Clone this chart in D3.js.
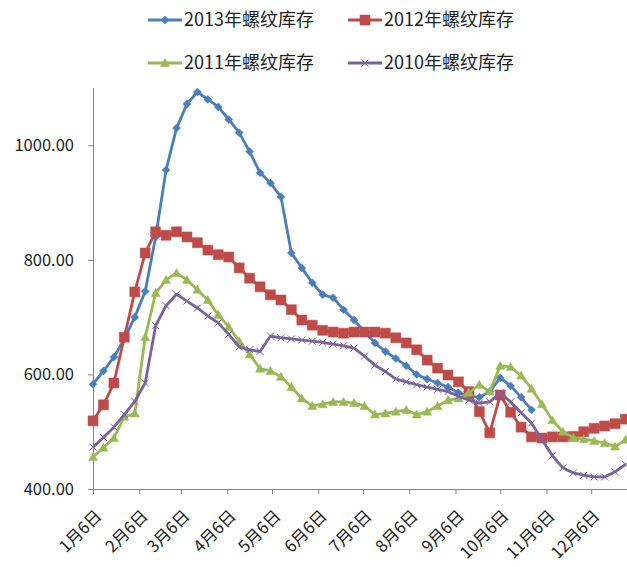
<!DOCTYPE html>
<html>
<head>
<meta charset="utf-8">
<script src="https://cdn.jsdelivr.net/npm/d3@7"></script>
<style>
  body { margin: 0; background: #fff; }
  text { font-family: "Noto Sans CJK SC", "Noto Sans", sans-serif; fill: #222; }
</style>
</head>
<body>
<svg id="chart" width="627" height="567"></svg>
<script>
// weekly inventory, one value per week starting 1月6日
const seriesNames = ["2013年螺纹库存", "2012年螺纹库存", "2011年螺纹库存", "2010年螺纹库存"];
const monthLabels = ["1月6日", "2月6日", "3月6日", "4月6日", "5月6日", "6月6日",
  "7月6日", "8月6日", "9月6日", "10月6日", "11月6日", "12月6日"];
const yTicks = [400, 600, 800, 1000];

const s2013 = [583, 606, 630, 662, 700, 745, 840, 957, 1030, 1072, 1093, 1080, 1067, 1045,
  1022, 989, 952, 934, 910, 812, 786, 760, 739, 734, 713, 695, 675, 655, 640, 628, 615,
  600, 592, 585, 578, 568, 562, 560, 570, 594, 580, 560, 538];
const s2012 = [519, 547, 585, 665, 744, 812, 849, 843, 849, 840, 830, 817, 809, 805, 786,
  768, 753, 739, 730, 713, 695, 686, 677, 674, 672, 674, 674, 674, 672, 664, 655, 643,
  625, 611, 599, 587, 570, 535, 498, 564, 534, 508, 491, 489, 491, 491, 492, 500, 506,
  510, 514, 522];
const s2011 = [456, 472, 489, 526, 532, 665, 742, 765, 777, 765, 748, 730, 704, 683, 658,
  635, 610, 606, 596, 578, 558, 545, 548, 552, 552, 550, 545, 530, 532, 535, 538, 530,
  535, 545, 555, 558, 568, 582, 570, 615, 613, 598, 575, 548, 520, 500, 490, 487, 484,
  480, 474, 486];
const s2010 = [473, 490, 508, 530, 553, 585, 685, 720, 740, 728, 716, 702, 690, 670, 648,
  643, 640, 667, 664, 662, 660, 658, 656, 653, 650, 646, 632, 616, 605, 592, 587, 582,
  578, 574, 570, 562, 555, 550, 552, 568, 552, 533, 515, 486, 458, 437, 428, 424, 421,
  421, 430, 443];

const allSeries = [s2013, s2012, s2011, s2010];
const colors = ["#4a7ebb", "#be4b48", "#98b954", "#7d60a0"];
const markers = ["diamond", "square", "triangle", "cross"];

const start = new Date(2013, 0, 6);
const weeks = d3.range(52).map(i => d3.timeDay.offset(start, 7 * i));
const monthDates = d3.range(12).map(m => new Date(2013, m, 6));

const svg = d3.select("#chart");

const x = d3.scaleTime()
  .domain([start, new Date(2013, 11, 30)])
  .range([93, 627]);
const y = d3.scaleLinear().domain([400, 1100]).range([489, 88]);

// y axis
const yAxis = svg.append("g")
  .attr("transform", "translate(93,0)")
  .call(d3.axisLeft(y).tickValues(yTicks).tickFormat(d3.format(".2f"))
    .tickSize(5).tickSizeOuter(0).tickPadding(14));
yAxis.select(".domain").attr("stroke", "#868686").attr("d", "M0.5,88V489");
yAxis.selectAll(".tick line").attr("stroke", "#868686");
yAxis.selectAll(".tick text").attr("font-size", 16.5).style("font-family", "\"Noto Sans CJK SC\"");

// x axis
const xAxis = svg.append("g")
  .attr("transform", "translate(0,489)")
  .call(d3.axisBottom(x).tickValues(monthDates).tickFormat((d, i) => monthLabels[i])
    .tickSize(5).tickSizeOuter(0));
xAxis.select(".domain").attr("stroke", "#868686");
xAxis.selectAll(".tick line").attr("stroke", "#868686");
xAxis.selectAll(".tick text")
  .attr("font-size", 16.5)
  .attr("text-anchor", "end")
  .attr("transform", "translate(5,24) rotate(-45)")
  .attr("y", 0).attr("dy", "0.35em");

function markerPath(type) {
  if (type === "diamond") return "M0,-4L4,0L0,4L-4,0Z";
  if (type === "square") return "M-5,-5H5V5H-5Z";
  if (type === "triangle") return "M0,-4.5L4.5,3.5H-4.5Z";
  return "M-3.5,-3.5L3.5,3.5M-3.5,3.5L3.5,-3.5";
}

const line = d3.line()
  .defined(d => d[1] != null)
  .x(d => x(d[0]))
  .y(d => y(d[1]));

allSeries.forEach((vals, si) => {
  const pts = vals.map((v, i) => [weeks[i], v]);
  const g = svg.append("g");
  g.append("path")
    .datum(pts)
    .attr("fill", "none")
    .attr("stroke", colors[si])
    .attr("stroke-width", 2.8)
    .attr("stroke-linejoin", "round")
    .attr("d", line);
  g.selectAll("path.mk")
    .data(pts)
    .join("path")
    .attr("class", "mk")
    .attr("transform", d => `translate(${x(d[0])},${y(d[1])})`)
    .attr("d", markerPath(markers[si]))
    .attr("fill", markers[si] === "cross" ? "none" : colors[si])
    .attr("stroke", colors[si])
    .attr("stroke-width", markers[si] === "cross" ? 1 : 0.5);
});

// legend
const legendPos = [[148, 20], [348, 20], [148, 63], [348, 63]];
seriesNames.forEach((name, i) => {
  const [lx, ly] = legendPos[i];
  const g = svg.append("g").attr("transform", `translate(${lx},${ly})`);
  g.append("line").attr("x1", 0).attr("x2", 34).attr("y1", 0).attr("y2", 0)
    .attr("stroke", colors[i]).attr("stroke-width", 2.8);
  g.append("path")
    .attr("transform", "translate(17,0)")
    .attr("d", markerPath(markers[i]))
    .attr("fill", markers[i] === "cross" ? "none" : colors[i])
    .attr("stroke", colors[i])
    .attr("stroke-width", markers[i] === "cross" ? 1 : 0.5);
  g.append("text")
    .attr("x", 36).attr("y", 0).attr("dy", "0.35em")
    .attr("font-size", 18)
    .text(name);
});
</script>
</body>
</html>
